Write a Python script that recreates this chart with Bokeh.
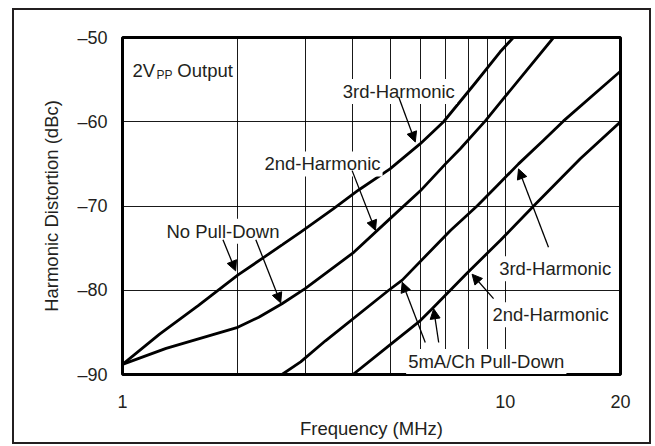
from bokeh.plotting import figure
from bokeh.models import (FixedTicker, NumeralTickFormatter, Label, Arrow,
                          NormalHead)
from bokeh.embed import file_html
from bokeh.resources import INLINE

# ---------------- data ----------------
# No pull-down, 3rd harmonic
npd_h3_f = [1.0, 1.25, 1.58, 2.0, 2.34, 2.92, 3.56, 4.14, 5.0, 6.0, 6.9, 8.35, 9.7, 10.5]
npd_h3_db = [-88.8, -85.2, -81.8, -78.2, -76.1, -73.1, -70.3, -68.1, -65.6, -62.6, -60.0, -55.4, -51.7, -50.0]
# No pull-down, 2nd harmonic
npd_h2_f = [1.0, 1.3, 2.0, 2.27, 2.61, 3.0, 4.02, 5.0, 6.0, 6.98, 7.63, 8.87, 10.0, 13.37]
npd_h2_db = [-88.8, -86.9, -84.4, -83.2, -81.6, -79.8, -75.5, -71.5, -68.2, -65.0, -63.2, -59.9, -57.0, -50.0]
# 5mA/Ch pull-down, 3rd harmonic
pd_h3_f = [2.61, 2.92, 3.39, 4.96, 5.38, 7.19, 8.44, 9.52, 10.83, 12.59, 14.2, 20.0]
pd_h3_db = [-90.0, -88.5, -86.0, -80.0, -78.8, -72.9, -70.0, -67.6, -65.0, -62.2, -59.9, -54.0]
# 5mA/Ch pull-down, 2nd harmonic
pd_h2_f = [4.0, 4.96, 6.0, 6.44, 7.93, 9.7, 11.86, 15.7, 20.0]
pd_h2_db = [-90.0, -86.6, -83.6, -82.2, -78.0, -74.1, -70.0, -64.4, -60.0]

y_ticks = [-90, -80, -70, -60, -50]
y_tick_labels = ["\u201390", "\u201380", "\u201370", "\u201360", "\u201350"]
x_ticks = [1, 10, 20]
x_grid_ticks = [2, 3, 4, 5, 6, 7, 8, 9, 10]
y_grid_ticks = [-80, -70, -60]

FONT = "Liberation Sans"
TXT = "#231f20"

p = figure(width=635, height=432, x_axis_type="log",
           x_range=(1, 20), y_range=(-90, -50),
           output_backend="svg", toolbar_location=None,
           min_border_left=108, min_border_right=29,
           min_border_top=27, min_border_bottom=68,
           margin=(10, 0, 0, 14),
           background_fill_color="white", border_fill_color="white")
p.styles = {"outline": "2px solid #231f20"}

p.outline_line_color = "black"
p.outline_line_width = 3

# axes
for ax in (p.xaxis[0], p.yaxis[0]):
    ax.axis_line_color = None
    ax.major_tick_line_color = None
    ax.minor_tick_line_color = None
    ax.major_tick_out = 0
    ax.major_tick_in = 0
    ax.minor_tick_out = 0
    ax.major_label_text_font = FONT
    ax.major_label_text_font_size = "18px"
    ax.major_label_text_color = TXT
    ax.axis_label_text_font = FONT
    ax.axis_label_text_font_size = "18.5px"
    ax.axis_label_text_font_style = "normal"
    ax.axis_label_text_color = TXT

p.xaxis.ticker = FixedTicker(ticks=x_ticks)
p.xaxis.formatter = NumeralTickFormatter(format="0")
p.xaxis.major_label_standoff = 20
p.xaxis.axis_label = "Frequency (MHz)"
p.xaxis.axis_label_standoff = 7

p.yaxis.ticker = FixedTicker(ticks=y_ticks)
p.yaxis.major_label_overrides = {t: l for t, l in zip(y_ticks, y_tick_labels)}
p.yaxis.major_label_standoff = 15
p.yaxis.axis_label = "Harmonic Distortion (dBc)"
p.yaxis.axis_label_standoff = 12

# grid
p.xgrid.ticker = FixedTicker(ticks=x_grid_ticks)
p.ygrid.ticker = FixedTicker(ticks=y_grid_ticks)
for g in (p.xgrid[0], p.ygrid[0]):
    g.grid_line_color = "black"
    g.grid_line_width = 1
    g.grid_line_alpha = 0.9
p.xgrid.minor_grid_line_color = None

# curves
for fx, fy in ((npd_h3_f, npd_h3_db), (npd_h2_f, npd_h2_db),
               (pd_h3_f, pd_h3_db), (pd_h2_f, pd_h2_db)):
    p.line(fx, fy, line_color="black", line_width=2.8, line_join="round")

# labels
def lab(x, y, t, size="18.5px", align="center", bg=True):
    kw = dict(x=x, y=y, text=t, text_font=FONT, text_font_size=size,
              text_color=TXT, text_align=align, text_baseline="alphabetic")
    if bg:
        kw.update(background_fill_color="white", padding=2)
    p.add_layout(Label(**kw))

lab(1.062, -53.9, "2V", align="left", bg=False)
lab(1.227, -54.43, "PP", size="12px", align="left", bg=False)
lab(1.391, -53.9, "Output", align="left", bg=False)
lab(5.27, -56.4, "3rd-Harmonic")
lab(3.33, -65.0, "2nd-Harmonic")
lab(1.83, -73.0, "No Pull-Down")
lab(13.5, -77.45, "3rd-Harmonic")
lab(13.13, -82.9, "2nd-Harmonic")
lab(8.92, -88.46, "5mA/Ch Pull-Down")

# arrows (start = near label, end = on curve)
arrows = [
    (5.27, -57.1, 5.82, -62.4),
    (3.98, -65.8, 4.58, -72.9),
    (1.83, -74.0, 1.975, -77.7),
    (2.23, -74.0, 2.59, -81.5),
    (12.97, -74.9, 10.83, -65.6),
    (9.32, -81.0, 8.19, -78.1),
    (6.18, -86.2, 5.38, -79.05),
    (6.70, -86.2, 6.50, -82.2),
]
for xs, ys, xe, ye in arrows:
    p.add_layout(Arrow(x_start=xs, y_start=ys, x_end=xe, y_end=ye,
                       line_color="black", line_width=1.3,
                       end=NormalHead(size=10, fill_color="black",
                                      line_color="black", line_width=1)))

open("out.html", "w").write(file_html(p, INLINE))
